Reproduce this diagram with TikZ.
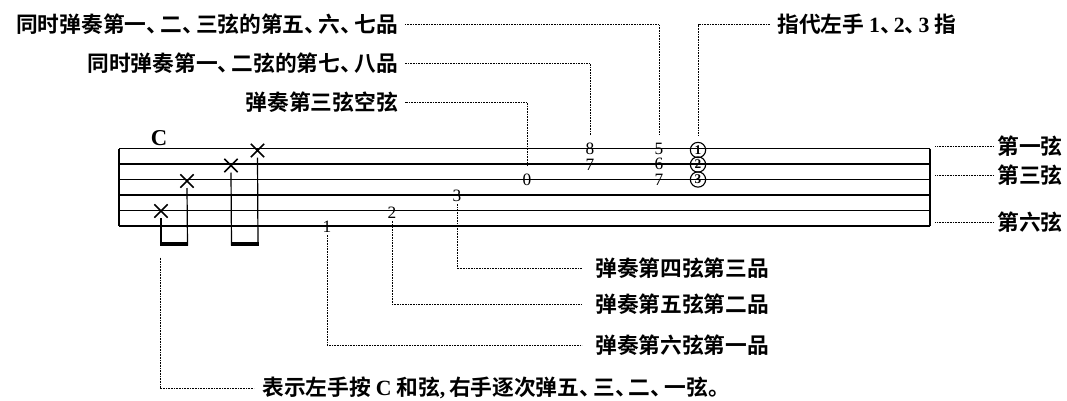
\documentclass[tikz,border=0pt]{standalone}
\usepackage{fontspec}
\setmainfont{Liberation Serif}
\newfontfamily\cjk{Noto Sans CJK SC}[BoldFont={Noto Sans CJK SC Bold}]
\usetikzlibrary{shapes.misc}
\newcommand\dun{\makebox[0.64em][l]{、}}
\tikzset{
  strline/.style={line width=1.1pt},
  lead/.style={line width=0.55pt, dash pattern=on 0.7pt off 0.5pt},
  lbl/.style={font=\cjk\bfseries\fontsize{16.3}{19}\selectfont, inner sep=0pt},
  tabnum/.style={font=\fontsize{13}{13}\selectfont, inner sep=0pt, text height=8.4pt, text depth=0pt},
  cnum/.style={circle, draw, line width=0.85pt, minimum size=11.5pt, inner sep=0pt, font=\fontsize{10}{10}\selectfont\bfseries},
  xm/.style={cross out, draw, line width=1.2pt, minimum size=8.8pt, inner sep=0pt},
  stem/.style={line width=0.9pt},
  beam/.style={line width=3pt, line cap=butt},
}
\begin{document}
\begin{tikzpicture}[x=0.75pt,y=-0.75pt]
\useasboundingbox (0,0) rectangle (1067,400);
% staff
\foreach \y in {148.5,164,179.5,195,210.5,226}{
  \draw[strline] (119,\y) -- (930,\y);
}
\draw[line width=1.3pt] (119,148.5) -- (119,226);
\draw[line width=1.3pt] (930,148.5) -- (930,226);
\coordinate (R) at (930,0);
% chord label
\node[font=\bfseries\fontsize{17}{17}\selectfont, inner sep=0pt] (C) at (159,138.5) {C};
% x marks
\node[xm] (x1) at (161,211) {};
\node[xm] (x2) at (187,181) {};
\node[xm] (x3) at (231,165.5) {};
\node[xm] (x4) at (257.5,150.5) {};
\coordinate (b1) at (160.5,243.5);
\coordinate (b2) at (188,243.5);
\coordinate (b3) at (231,243.5);
\coordinate (b4) at (258.5,243.5);
\draw[stem] (x1.center) ++(0,7) -- (161,245.5);
\draw[stem] (x2.center) ++(0,7) -- (187.5,245.5);
\draw[stem] (x3.center) ++(0,7) -- (231.5,245.5);
\draw[stem] (x4.center) ++(0,7) -- (258,245.5);
\draw[beam] (b1) -- (b2);
\draw[beam] (b3) -- (b4);
% tab numbers
\node[tabnum] (n1) at (327,227) {1};
\node[tabnum] (n2) at (392,213) {2};
\node[tabnum] (n3) at (457,196) {3};
\node[tabnum] (n0) at (527,180) {0};
\node[tabnum] (n8) at (590,149) {8};
\node[tabnum] (n7a) at (590,164.5) {7};
\node[tabnum] (n5) at (659,148.5) {5};
\node[tabnum] (n6) at (659,164) {6};
\node[tabnum] (n7b) at (659,179.5) {7};
\node[cnum] (c1) at (698,150) {1};
\node[cnum] (c2) at (698,164.5) {2};
\node[cnum] (c3) at (698,179.5) {3};
% labels top left
\node[lbl, anchor=east] (t1) at (398,24.5) {同时弹奏第一\dun 二\dun 三弦的第五\dun 六\dun 七品};
\node[lbl, anchor=east] (t2) at (398,63.5) {同时弹奏第一\dun 二弦的第七\dun 八品};
\node[lbl, anchor=east] (t3) at (398,102.5) {弹奏第三弦空弦};
\node[lbl, anchor=west] (t4) at (777,24.5) {指代左手 {\rmfamily\bfseries 1}\dun{\rmfamily\bfseries 2}\dun{\rmfamily\bfseries 3} 指};
% right labels
\node[lbl, anchor=west] (r1) at (997,146) {第一弦};
\node[lbl, anchor=west] (r3) at (997,175) {第三弦};
\node[lbl, anchor=west] (r6) at (997,222) {第六弦};
% bottom labels
\node[lbl, anchor=west] (d4) at (595,268.5) {弹奏第四弦第三品};
\node[lbl, anchor=west] (d5) at (595,304) {弹奏第五弦第二品};
\node[lbl, anchor=west] (d6) at (595,345) {弹奏第六弦第一品};
\node[lbl, anchor=west] (tb) at (262,388) {表示左手按\ {\rmfamily\bfseries C}\ 和弦{\rmfamily\bfseries ,}\,右手逐次弹五\dun 三\dun 二\dun 一弦。};
% leaders
\draw[lead, shorten <=6pt, shorten >=5pt] (n5.north) |- (t1.east);
\draw[lead, shorten <=6pt, shorten >=5pt] (n8.north) |- (t2.east);
\draw[lead, shorten <=6pt, shorten >=5pt] (n0.north) |- (t3.east);
\draw[lead, shorten <=4.5pt, shorten >=5pt] (c1.north) |- (t4.west);
\draw[lead, shorten <=4pt, shorten >=3pt] (r1.west -| R) -- (r1.west);
\draw[lead, shorten <=4pt, shorten >=3pt] (r3.west -| R) -- (r3.west);
\draw[lead, shorten <=4pt, shorten >=3pt] (r6.west -| R) -- (r6.west);
\draw[lead, shorten <=1.5pt, shorten >=10pt] (n3.south) |- (d4.west);
\draw[lead, shorten <=1.5pt, shorten >=10pt] (n2.south) |- (d5.west);
\draw[lead, shorten <=1.5pt, shorten >=10pt] (n1.south) |- (d6.west);
\draw[lead, shorten <=10.5pt, shorten >=6pt] (b1) |- (tb.west);
\end{tikzpicture}
\end{document}
